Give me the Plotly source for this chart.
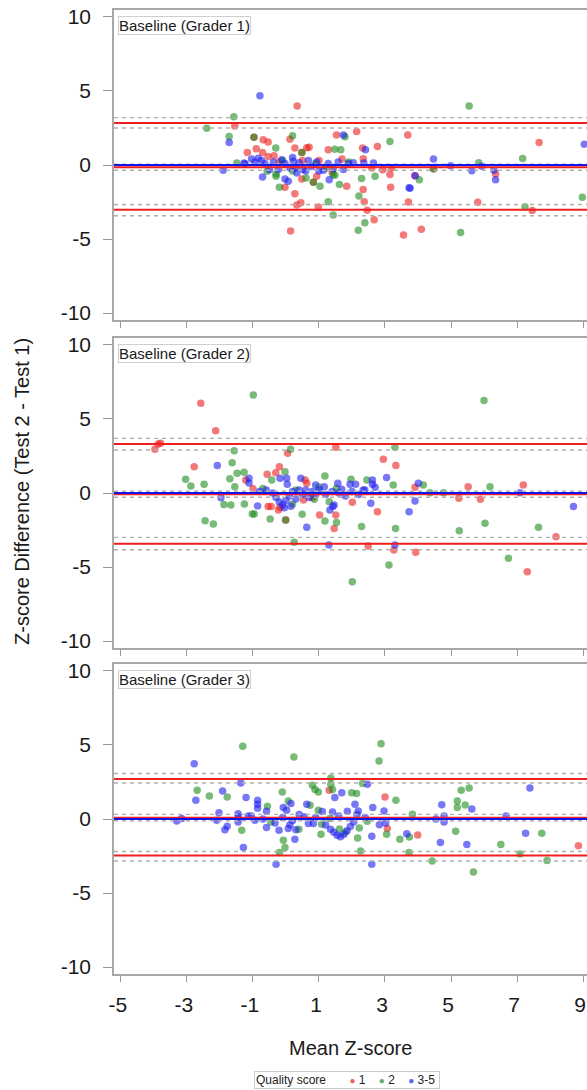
import plotly.graph_objects as go

W, H = 587, 1090

# ---------------- data (Mean Z-score, Z-score difference) ----------------
# Panel 1: Baseline (Grader 1)
g1_q1_x = [0.34, -1.55, -0.97, -0.69, -0.54, 0.12, -1.17, -0.71, -0.54, -0.36, 0.27, 0.63, 0.70, 0.48, 1.28, 1.53,
           2.14, 3.69, 2.77, 2.32, 2.34, 2.93, 3.20, 3.15, 3.17, 3.71, 3.56, 2.67, 2.46, 2.37, 2.34, 1.84, 1.40, 0.98,
           0.93, 0.83, 0.48, 0.27, 0.33, 0.45, 0.14, -0.03, 7.67, 6.35, 4.47, 3.91, 4.10, 5.81, 7.46, 0.50, -0.20,
           1.00, 1.70, 2.60, -0.90]
g1_q1_y = [3.98, 2.64, 1.88, 1.70, 1.56, 1.74, 0.85, 0.85, 0.58, 0.62, 1.14, 1.16, 1.20, 0.85, 1.03, 2.03,
           2.26, 2.03, 1.25, 1.14, 0.42, -0.32, -0.20, -0.65, -1.50, -2.50, -4.72, -3.70, -3.05, -2.48, -1.66, -1.43,
           -0.50, -2.84, -0.76, -1.17, -0.94, -1.95, -2.71, -2.55, -4.45, -1.50, 1.52, -0.60, -0.25, -0.72, -4.34,
           -2.51, -3.07, 0.30, 0.20, 0.30, 0.40, -0.20, 1.10]
g1_q2_x = [5.55, -1.58, -2.40, -1.72, -0.97, 0.20, -0.31, 0.48, 1.48, 1.66, 1.79, 3.15, 2.70, 2.39, 2.19, 2.21,
           2.29, 1.62, 1.43, 1.48, 1.28, 1.43, 1.03, 0.83, 0.61, -0.30, -0.30, -0.57, -1.49, 7.17, 5.84, 4.47, 4.04,
           5.29, 7.24, 8.98, -0.10, 0.90, 1.20, -0.20, 0.20, 1.90]
g1_q2_y = [3.98, 3.26, 2.48, 1.92, 1.88, 1.97, 1.14, 0.85, 1.07, 1.03, 1.90, 1.58, -0.76, -3.90, -4.40, -2.10,
           -0.92, -1.32, -0.65, -0.70, -2.48, -3.38, -1.43, -1.17, -0.87, -0.76, -0.60, -0.43, 0.13, 0.44, 0.15,
           -0.25, -0.99, -4.56, -2.82, -2.17, 0.30, 0.10, -0.20, -1.50, -0.40, 0.20]
g1_q3_x = [-0.79, -1.72, 1.74, 2.41, 2.36, 2.65, 3.73, 1.31, 0.33, -0.03, 0.07, -0.71, -1.90, -1.27, -1.04, -0.94,
           -0.84, -0.74, -0.64, -0.38, -0.23, -0.13, -0.03, 0.12, 0.22, 0.40, 0.52, 0.68, 0.78, 0.93, 1.13, 1.28,
           1.43, 1.58, 1.74, 1.89, 2.04, 9.04, 4.47, 5.93, 4.99, 5.63, 6.30, 6.35, 3.91, 3.76, -1.24, 0.20, 0.60,
           1.00, -0.50, 0.30]
g1_q3_y = [4.67, 1.52, 2.03, 1.03, 0.13, 0.13, -1.54, -0.99, -0.54, -0.94, -1.10, -0.81, -0.36, 0.13, 0.40, 0.20,
           0.45, 0.30, 0.10, 0.20, -0.30, 0.35, 0.10, -0.20, 0.25, 0.15, -0.30, 0.30, -0.10, 0.20, -0.35, 0.10,
           -0.25, 0.20, -0.30, 0.10, 0.15, 1.41, 0.40, -0.09, -0.05, -0.38, -0.36, -0.99, -0.72, -1.57, 0.09, 0.50,
           -0.40, -0.40, -0.30, -0.20]

# Panel 2: Baseline (Grader 2)
g2_q1_x = [-2.58, -2.13, -3.97, -3.87, -3.80, 0.05, 1.51, 2.95, 3.33, -2.78, -1.22, -0.57, -0.31, -0.20, 0.58, 0.63,
           -0.54, -0.45, -0.23, -0.18, -0.01, 0.53, 1.02, 1.51, 1.46, 2.01, 2.77, 2.49, 3.27, 3.91, 5.52, 7.19, 5.24,
           5.89, 8.18, 7.31, 3.93, -1.00, 0.80]
g2_q1_y = [6.06, 4.21, 2.95, 3.31, 3.36, 2.68, 3.09, 2.28, 1.85, 1.78, 0.88, 1.26, 1.37, 1.78, 0.88, 0.66,
           -0.92, -0.92, -1.15, -0.97, -1.82, -0.47, -1.49, -1.49, -2.39, -0.63, -1.26, -3.58, -3.85, 0.39, 0.43,
           0.54, -0.36, -0.43, -2.95, -5.32, -4.01, 0.30, -0.30]
g2_q2_x = [-0.99, -1.57, 0.14, 3.30, -1.63, -3.04, -2.88, -2.48, -1.70, -1.48, -1.27, -1.55, -0.03, -0.43, 1.18, 1.53,
           1.97, 2.45, 3.25, -1.88, -1.67, -1.26, -1.02, -0.96, -0.48, -0.01, 0.20, 0.49, 0.86, 1.18, 1.31, 1.53,
           2.29, 3.32, 0.25, 3.12, 2.01, -2.45, -2.20, 6.00, 4.16, 6.18, 4.36, 4.77, 5.25, 6.03, 7.65, 6.74, 0.30,
           1.00, -0.70]
g2_q2_y = [6.62, 2.86, 2.95, 3.09, 2.05, 0.93, 0.47, 0.59, 0.97, 1.33, 1.40, 0.43, 1.44, 0.88, 1.15, 0.32,
           0.93, 0.88, 0.54, -0.77, -0.81, -0.74, -1.42, -1.42, -1.76, -1.82, -0.74, -1.44, -0.43, -1.89, -0.59,
           -2.00, -2.27, -2.39, -3.33, -4.86, -5.99, -1.87, -2.09, 6.24, 0.54, 0.43, 0.02, 0.02, -2.55, -2.05,
           -2.32, -4.41, 0.20, 0.40, 0.30]
g2_q3_x = [-2.08, -1.12, -1.12, -0.18, 0.02, 0.04, 0.45, 0.90, 1.16, 1.57, 1.69, 1.94, 2.11, 2.62, 2.62, 2.70,
           3.05, 2.34, 2.39, -1.97, -0.86, 0.63, 1.33, 1.42, 1.46, 2.57, 1.30, 3.30, 4.01, 3.91, 3.73, 7.09, 8.71,
           -0.80, -0.60, -0.40, -0.30, -0.20, -0.10, 0.00, 0.10, 0.20, 0.30, 0.40, 0.50, 0.60, 0.70, 0.80, 0.90,
           1.00, 1.20, 1.40, 1.60, 1.80, 2.00, 2.20, -0.05, 0.15]
g2_q3_y = [1.85, 1.00, 0.68, 0.99, 0.99, 0.59, 0.99, 0.54, 0.43, 0.66, 0.25, 0.59, 0.59, 0.88, 0.59, 0.39,
           1.04, 0.20, 0.20, -0.32, -0.88, -2.32, -1.15, -0.92, -0.81, -0.70, -3.51, -3.51, 0.66, -0.54, -1.26,
           0.02, -0.92, 0.10, 0.20, 0.00, -0.30, -0.60, -0.80, -0.50, -0.20, 0.10, -0.40, 0.20, -0.10, 0.20, -0.30,
           0.10, -0.10, 0.20, -0.10, 0.10, 0.00, -0.20, 0.10, -0.10, -1.00, -0.90]

# Panel 3: Baseline (Grader 3)
g3_q1_x = [1.31, 3.00, 3.07, 3.99, 8.86]
g3_q1_y = [1.94, 1.49, -0.65, -1.08, -1.80]
g3_q2_x = [-1.31, 0.24, 2.88, 2.82, -2.69, -2.32, -1.78, -0.56, -0.11, 0.07, 0.73, 0.80, 0.88, 0.98, 1.36, 1.36,
           1.41, 1.99, 2.14, 2.32, 3.33, 0.98, 1.33, -1.34, -0.08, -0.03, 0.39, 1.08, 1.06, 1.62, 2.22, 2.17, 2.26,
           3.05, 3.45, -0.20, 5.19, 5.19, 5.31, 5.55, 5.43, 5.14, 5.68, 4.43, 7.75, 6.51, 7.09, 7.91, 3.73, 3.74,
           3.83, 2.46, -0.46, 1.80]
g3_q2_y = [4.91, 4.19, 5.09, 3.92, 1.94, 1.55, 1.49, 0.86, 1.83, 1.22, 0.93, 2.28, 1.99, 1.83, 2.77, 2.34,
           2.00, 1.78, 1.72, 2.39, 1.26, 0.59, 0.03, -0.76, -1.44, -1.93, -0.70, -0.36, -1.03, -0.68, -0.61, -1.28,
           -2.16, -1.03, -1.37, -2.26, 1.22, 0.77, 1.94, 2.09, 0.95, -0.83, -3.58, -2.84, -0.97, -1.73, -2.36,
           -2.81, -2.27, -1.22, 0.32, -0.16, -0.20, -0.90]
g3_q3_x = [-2.78, -1.37, -2.73, -1.92, -1.21, -0.86, -0.86, -0.86, -0.08, 0.02, 0.15, 0.63, 1.48, 1.69, 2.47, 2.63,
           2.97, 2.09, 2.19, 1.41, 1.86, -3.31, -3.16, -2.10, -2.03, -1.85, -1.78, -1.45, -1.45, -1.45, -1.29, -1.14,
           -1.05, -0.94, -0.59, -0.59, -0.33, -0.21, 0.12, 0.07, 0.27, 0.30, 0.68, 0.83, 1.20, 1.35, 1.45, 1.55,
           1.65, 1.75, 1.85, 1.95, 2.05, 2.15, 2.60, 3.66, 2.60, -0.30, 3.02, 2.83, 4.72, 5.63, 4.79, 4.79, 4.68,
           5.48, 7.39, 7.26, 6.67, 4.54, 0.40, 0.90, 1.10, -0.10, 0.55, -0.70, 1.60, 2.40, 0.20]
g3_q3_y = [3.74, 2.43, 1.26, 1.89, 1.45, 1.26, 1.00, 0.72, 0.77, 0.59, 1.04, 0.99, 1.45, 1.78, 2.34, 0.77,
           0.54, 0.99, 0.54, 0.47, 0.52, -0.14, 0.03, -0.09, 0.43, -0.72, -0.49, -0.20, 0.14, 0.36, -1.93, 0.20,
           0.20, -0.09, -0.58, 0.52, -0.27, -0.76, -0.38, -0.65, -1.37, -0.72, -0.31, -0.31, -0.40, -0.70, -0.90,
           -1.10, -1.20, -1.05, -0.80, -0.50, -0.20, 0.30, -1.17, -0.99, -3.06, -3.06, -0.27, -0.38, 0.97, 0.68,
           0.20, -0.20, -1.59, -1.73, 2.09, -0.97, 0.20, 0.00, 0.30, 0.10, 0.50, 0.10, 0.15, 0.00, 0.20, 0.10, -0.10]

# Bland-Altman statistics per panel: mean bias, LoA and their CIs
panel_titles = ["Baseline (Grader 1)", "Baseline (Grader 2)", "Baseline (Grader 3)"]
bias = [-0.15, -0.08, 0.09]
bias_ci = [(-0.35, 0.05), (-0.29, 0.12), (-0.12, 0.31)]
loa_upper = [2.83, 3.31, 2.70]
loa_upper_ci = [(2.50, 3.20), (2.90, 3.69), (2.43, 3.07)]
loa_lower = [-3.03, -3.42, -2.47]
loa_lower_ci = [(-3.43, -2.67), (-3.83, -3.00), (-2.84, -2.20)]

x_ticks = [-5, -3, -1, 1, 3, 5, 7, 9]
y_ticks = [-10, -5, 0, 5, 10]
legend_title = "Quality score"
quality_labels = ["1", "2", "3-5"]
quality_colors = ["rgb(235,30,30)", "rgb(30,140,30)", "rgb(30,30,240)"]

panels = [
    [(g1_q1_x, g1_q1_y), (g1_q2_x, g1_q2_y), (g1_q3_x, g1_q3_y)],
    [(g2_q1_x, g2_q1_y), (g2_q2_x, g2_q2_y), (g2_q3_x, g2_q3_y)],
    [(g3_q1_x, g3_q1_y), (g3_q2_x, g3_q2_y), (g3_q3_x, g3_q3_y)],
]

# ---------------- layout geometry (pixels) ----------------
FONT = "Liberation Sans, Arial, sans-serif"
plot_left = 114
panel_px = [(10, 320), (338, 648), (664, 974)]  # top, bottom
x_range = [-5.21, 9.12]
y_range = [-10.47, 10.47]

fig = go.Figure()

for p, series in enumerate(panels):
    ax = "" if p == 0 else str(p + 1)
    for q, (xs, ys) in enumerate(series):
        fig.add_trace(go.Scatter(
            x=xs, y=ys, mode="markers", xaxis="x" + ax, yaxis="y" + ax,
            name=quality_labels[q],
            marker=dict(size=7.5, color=quality_colors[q], opacity=0.6, line=dict(width=0)),
            showlegend=False, hoverinfo="skip"))

layout = dict(
    width=W, height=H, margin=dict(l=0, r=0, t=0, b=0, autoexpand=False),
    paper_bgcolor="white", plot_bgcolor="white",
    font=dict(family=FONT, color="#1a1a1a"),
    showlegend=False,
)

shapes = []
annotations = []
for p in range(3):
    ax = "" if p == 0 else str(p + 1)
    top, bot = panel_px[p]
    xdom = [plot_left / W, 1.0]
    ydom = [1 - bot / H, 1 - top / H]
    layout["xaxis" + ax] = dict(
        domain=xdom, range=x_range, anchor="y" + ax, tickvals=x_ticks,
        ticktext=[str(v) for v in x_ticks], showticklabels=(p == 2),
        ticks="outside", ticklen=6, tickcolor="#999", tickwidth=1,
        showline=True, linecolor="#a8a8a8", linewidth=1.5, mirror=True,
        showgrid=False, zeroline=False, ticklabeloverflow="allow", automargin=False,
        ticklabelshift=-3,
        tickfont=dict(size=21, family=FONT, color="#1a1a1a"), ticklabelstandoff=5)
    layout["yaxis" + ax] = dict(
        domain=ydom, range=y_range, anchor="x" + ax, tickvals=y_ticks,
        ticktext=[str(v) for v in y_ticks],
        ticks="outside", ticklen=9, tickcolor="#999", tickwidth=1,
        showline=True, linecolor="#a8a8a8", linewidth=1.5, mirror=False,
        showgrid=False, zeroline=False, ticklabeloverflow="allow", automargin=False,
        tickfont=dict(size=21, family=FONT, color="#1a1a1a"), ticklabelstandoff=8)

    def hline(yv, color, width, dash="solid"):
        shapes.append(dict(type="line", xref="x" + ax + " domain", yref="y" + ax,
                           x0=0, x1=1, y0=yv, y1=yv, layer="above",
                           line=dict(color=color, width=width, dash=dash)))

    for ci in (bias_ci[p], loa_upper_ci[p], loa_lower_ci[p]):
        for v in ci:
            hline(v, "#b0b0b0", 1.4, "4px,4px")
    hline(loa_upper[p], "rgb(240,30,30)", 2)
    hline(loa_lower[p], "rgb(240,30,30)", 2)
    hline(bias[p], "rgb(240,30,30)", 2)
    hline(0, "rgb(20,20,235)", 2.2)

    annotations.append(dict(text=panel_titles[p], xref="x" + ax + " domain", yref="y" + ax + " domain",
                            x=0.008, y=0.982, xanchor="left", yanchor="top", showarrow=False,
                            font=dict(size=15, family=FONT, color="#1a1a1a"),
                            bordercolor="#cfcfcf", borderwidth=1, borderpad=0, bgcolor="white"))

annotations.append(dict(text="Z-score Difference (Test 2 - Test 1)", xref="paper", yref="paper",
                        x=22 / W, y=1 - 492 / H, textangle=-90, showarrow=False,
                        xanchor="center", yanchor="middle",
                        font=dict(size=20, family=FONT, color="#1a1a1a")))
annotations.append(dict(text="Mean Z-score", xref="paper", yref="paper",
                        x=350 / W, y=1 - 1048 / H, showarrow=False,
                        xanchor="center", yanchor="middle",
                        font=dict(size=20, family=FONT, color="#1a1a1a")))

# compact legend box: "Quality score  ● 1  ● 2  ● 3-5"
nb = "&nbsp;"
legend_parts = [legend_title + nb * 3]
for lab, col in zip(quality_labels, quality_colors):
    legend_parts.append(
        nb * 4 + "<span style='color:%s;font-size:10px;opacity:0.7'>●</span>%s%s" % (col, nb, lab))
annotations.append(dict(text="".join(legend_parts) + nb, xref="paper", yref="paper",
                        x=347 / W, y=1 - 1088.5 / H, showarrow=False,
                        xanchor="center", yanchor="bottom",
                        font=dict(size=12, family=FONT, color="#222"),
                        bordercolor="#cccccc", borderwidth=1, borderpad=1, bgcolor="white"))

layout["shapes"] = shapes
layout["annotations"] = annotations
fig.update_layout(**layout)

fig.write_html("out.html")
